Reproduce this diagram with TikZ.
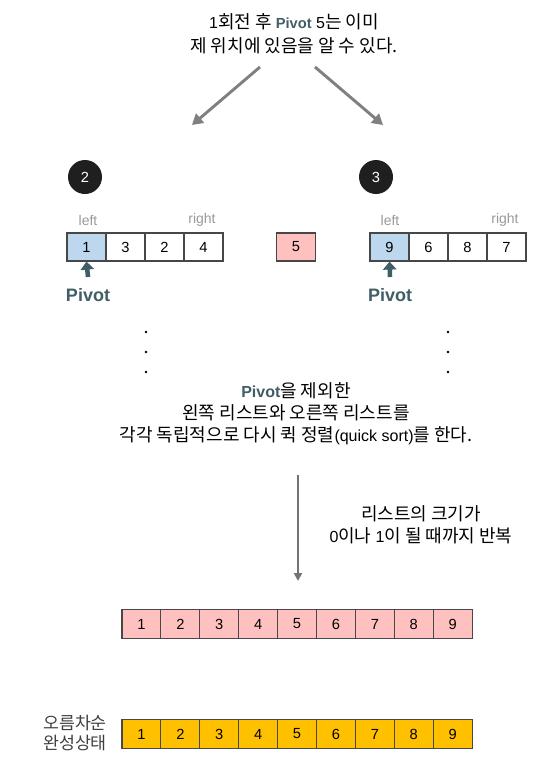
\documentclass[tikz,border=0pt]{standalone}
\usepackage{fontspec}
\setmainfont{Liberation Sans}
\newfontfamily\kr{Noto Sans CJK KR}
\usetikzlibrary{positioning,arrows.meta}
\definecolor{pinkc}{HTML}{FFC0C0}
\definecolor{bluec}{HTML}{BDD7EE}
\definecolor{gold}{HTML}{FFC000}
\definecolor{teal}{HTML}{3F5E66}
\newcommand{\hg}[1]{{\kr\fontsize{13.5}{17}\selectfont #1}}

\begin{document}
\begin{tikzpicture}[
    x=0.75pt, y=-0.75pt,
    cell/.style={draw=black!72, line width=0.9pt, minimum width=29.25pt, minimum height=21pt, inner sep=0pt, font=\fontsize{11}{11}\selectfont},
    numc/.style={circle, fill=black!88, text=white, minimum size=25.5pt, inner sep=0pt, font=\fontsize{11}{11}\selectfont},
    lr/.style={text=black!40, font=\fontsize{10.5}{10.5}\selectfont},
    txt/.style={align=center, font=\fontsize{12}{16.5}\selectfont},
    pvt/.style={text=teal, font=\bfseries\fontsize{13.5}{13.5}\selectfont},
    garr/.style={-{Triangle[length=8pt, width=9pt]}, line width=2.2pt, black!50},
    varr/.style={-{Triangle[length=6pt, width=6pt]}, line width=1.6pt, black!55},
    pvarr/.style={-{Triangle[length=6pt, width=10pt]}, line width=3.4pt, teal},
    dotc/.style={circle, fill=black, minimum size=2pt, inner sep=0pt},
]
\useasboundingbox (0,0) rectangle (537,761);

% top
\node[txt, font=\fontsize{12}{18}\selectfont] (top) at (294,34) {1\hg{회전 후 }{\color{teal}\bfseries\fontsize{11}{11}\selectfont Pivot} 5\hg{는 이미}\\\hg{제 위치에 있음을 알 수 있다.}};
\coordinate (ls) at (260,67);
\coordinate (le) at (192,125);
\coordinate (rs) at (315,67);
\coordinate (re) at (383,125);
\draw[garr] (ls) -- (le);
\draw[garr] (rs) -- (re);

% left part
\node[numc] (n2) at (85,177) {2};
\node[lr] (l1) at (88,220) {left};
\node[lr] (r1) at (202,220) {right};
\foreach \v/\c [count=\i] in {1/bluec, 3/white, 2/white, 4/white}
  \node[cell, fill=\c] (a\i) at (67+19.5+39*\i-39, 247) {\v};
\node[cell, fill=pinkc] (mid) at (296,247) {5};
\node[pvt] (p1) at (88,295) {Pivot};
\draw[pvarr] ([yshift=5pt]p1.north) -- (a1.south);

% right part
\node[numc] (n3) at (376,177) {3};
\node[lr] (l2) at (390,220) {left};
\node[lr] (r2) at (505,220) {right};
\foreach \v/\c [count=\i] in {9/bluec, 6/white, 8/white, 7/white}
  \node[cell, fill=\c] (b\i) at (370+19.5+39*\i-39, 247) {\v};
\node[pvt] (p2) at (390,295) {Pivot};
\draw[pvarr] ([yshift=5pt]p2.north) -- (b1.south);

% dots
\foreach \y [count=\i] in {332,352,372} {
  \node[dotc] (dl\i) at (146,\y) {};
  \node[dotc] (dr\i) at (448,\y) {};
}

\node[txt] (msg) at (296,414) {{\color{teal}\bfseries Pivot}\hg{을 제외한}\\\hg{왼쪽 리스트와 오른쪽 리스트를}\\\hg{각각 독립적으로 다시 퀵 정렬}(quick sort)\hg{를 한다.}};

% repeat
\coordinate (vs) at (298,475);
\coordinate (ve) at (298,581);
\draw[varr] (vs) -- (ve);
\node[txt] (rep) at (421,525) {\hg{리스트의 크기가}\\0\hg{이나 }1\hg{이 될 때까지 반복}};

% result
\foreach \v in {1,...,9}
  \node[cell, fill=pinkc, minimum width=29.2pt, minimum height=21.75pt] (c\v) at (122+19.45+38.9*\v-38.9, 624) {\v};
\foreach \v in {1,...,9}
  \node[cell, fill=gold, minimum width=29.2pt, minimum height=21.75pt] (d\v) at (122+19.45+38.9*\v-38.9, 734) {\v};
\node[txt, font=\kr\fontsize{13}{15}\selectfont, text=black!75] (done) at (75,733) {오름차순\\완성상태};
\end{tikzpicture}
\end{document}
